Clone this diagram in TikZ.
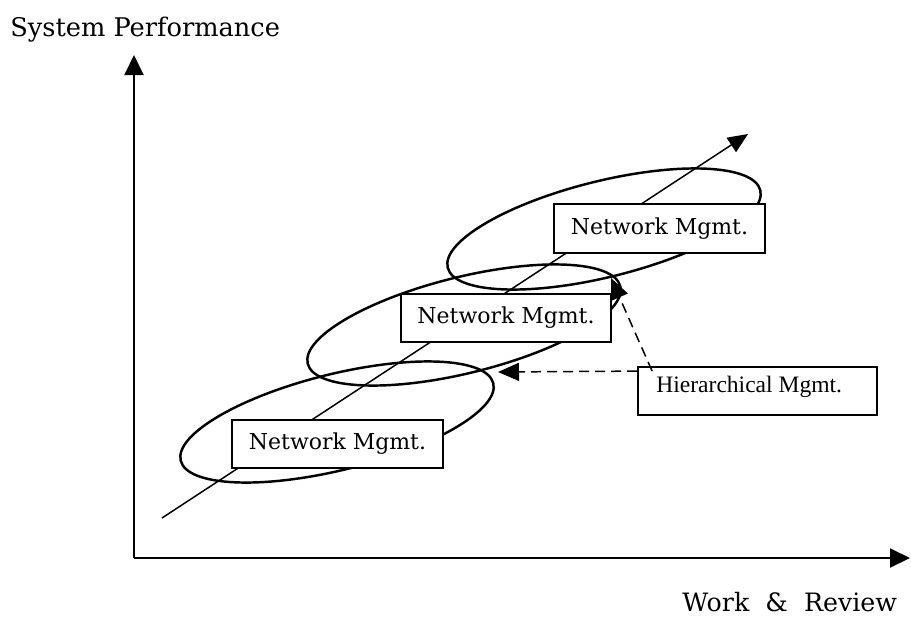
\documentclass[tikz,border=0pt]{standalone}
\usepackage{fontspec}
\setmainfont{DejaVu Serif}
\newfontfamily\timesfont{Liberation Serif}
\usepackage{tikz}
\usetikzlibrary{arrows.meta, positioning, calc}
\tikzstyle{axis} = [-{Triangle[length=4mm, width=3.8mm]}, line width=1.1pt]
\tikzstyle{trend} = [-{Triangle[length=4mm, width=3.4mm]}, line width=0.85pt]
\tikzstyle{dasharrow} = [-{Triangle[length=4.2mm, width=3.6mm]}, line width=0.85pt, dash pattern=on 2mm off 1.2mm]
\tikzstyle{mgmtbox} = [draw, line width=1pt, fill=white, minimum width=4.22cm, minimum height=0.97cm, inner sep=0pt, font=\fontsize{12.5}{15}\selectfont]
\tikzstyle{scopering} = [line width=1.4pt]

\begin{document}
\begin{tikzpicture}
    \useasboundingbox (0,0) rectangle (18.22,12.34);
    % axes
    \coordinate (origin) at (2.68,1.18);
    \coordinate (ytip) at (2.68,11.24);
    \coordinate (xtip) at (18.2,1.18);
    \draw[axis] (origin) -- (ytip);
    \draw[axis] (origin) -- (xtip);
    \node[font=\fontsize{14.6}{17}\selectfont, anchor=base west, inner sep=0pt] (ylabel) at (0.2,11.62) {System Performance};
    \node[font=\fontsize{14.4}{17}\selectfont, anchor=base west, inner sep=0pt] (xlabel) at (13.64,0.12) {Work\ \ \&\ \ Review};
    % trend line
    \coordinate (tstart) at (3.24,1.98);
    \coordinate (tend) at (14.96,9.66);
    \draw[trend] (tstart) -- (tend);
    % rings
    \draw[scopering, rotate around={13.9:(6.74,3.90)}] (6.74,3.90) ellipse (3.22 and 0.96);
    \draw[scopering, rotate around={13.9:(9.28,5.84)}] (9.28,5.84) ellipse (3.22 and 0.96);
    \draw[scopering, rotate around={13.9:(12.08,7.76)}] (12.08,7.76) ellipse (3.22 and 0.96);
    % boxes
    \node[mgmtbox] (netlow) at (6.75,3.46) {Network Mgmt.};
    \node[mgmtbox, minimum width=4.2cm] (netmid) at (10.12,5.98) {Network Mgmt.};
    \node[mgmtbox] (nethigh) at (13.19,7.77) {Network Mgmt.};
    \node[draw, line width=1pt, minimum width=4.78cm, minimum height=0.96cm] (hier) at (15.15,4.52) {};
    \node[font=\timesfont\fontsize{13.4}{15}\selectfont, anchor=base west, inner sep=0pt] (hiertext) at (13.12,4.5) {Hierarchical Mgmt.};
    % pointers
    \coordinate (ringlow) at (9.96,4.9);
    \coordinate (ringmid) at (12.22,6.78);
    \draw[dasharrow] ($(hier.north west)!0.1!(hier.south west)$) -- (ringlow);
    \draw[dasharrow] ($(hier.north west)+(0.3,-0.1)$) -- (ringmid);
\end{tikzpicture}
\end{document}
